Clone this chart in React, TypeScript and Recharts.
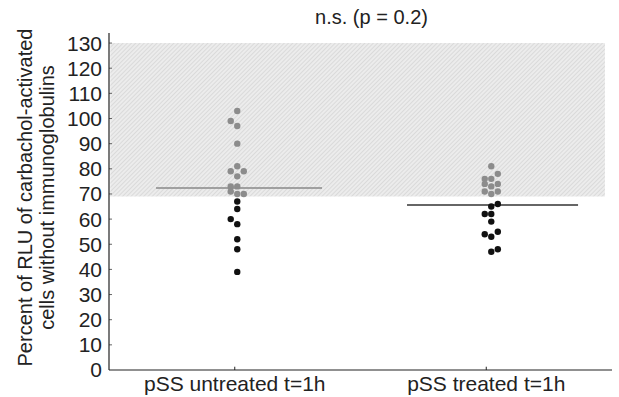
import { ScatterChart, Scatter, XAxis, YAxis, ReferenceArea, ReferenceLine } from 'recharts';

const CATEGORIES = ['pSS untreated t=1h', 'pSS treated t=1h'];
const Y_TICKS = [0, 10, 20, 30, 40, 50, 60, 70, 80, 90, 100, 110, 120, 130];

// measured values per group, with the jitter column (-1 left, 0 centre, 1 right)
const UNTREATED = [103, 99, 97, 90, 81, 79, 79, 77, 73, 73, 71, 70, 70, 67, 64, 60, 58, 52, 48, 39];
const UNTREATED_COL = [0, -1, 0, 0, 0, -1, 1, 0, -1, 0, -1, 0, 1, 0, 0, -1, 0, 0, 0, 0];
const TREATED = [81, 78, 76, 76, 74, 74, 73, 71, 71, 70, 66, 65, 62, 62, 59, 55, 54, 53, 48, 47];
const TREATED_COL = [0, 1, -1, 0, -1, 1, 0, -1, 1, 0, 1, 0, -1, 0, 0, 1, -1, 0, 1, 0];
const MEDIANS = [72.4, 65.6];
const NORMAL_RANGE = [69, 130];

const CENTERS = [0.51, 1.52];
const JITTER = 0.026;

const FONT = '"Liberation Sans", Arial, Helvetica, sans-serif';

const points = [
  ...UNTREATED.map((v, i) => ({ x: CENTERS[0] + UNTREATED_COL[i] * JITTER, y: v })),
  ...TREATED.map((v, i) => ({ x: CENTERS[1] + TREATED_COL[i] * JITTER, y: v })),
];
const grayPoints = points.filter((p) => p.y >= NORMAL_RANGE[0]);
const blackPoints = points.filter((p) => p.y < NORMAL_RANGE[0]);

const YLabel = (props: any) => {
  const { viewBox } = props;
  const cy = viewBox.y + viewBox.height / 2 - 4;
  return (
    <g fontFamily={FONT} fontSize={20} fill="#222" textAnchor="middle">
      <text x={25} y={cy} transform={`rotate(-90 25 ${cy})`} dominantBaseline="central">
        Percent of RLU of carbachol-activated
      </text>
      <text x={47} y={cy} transform={`rotate(-90 47 ${cy})`} dominantBaseline="central">
        cells without immunoglobulins
      </text>
    </g>
  );
};

export default function App() {
  return (
    <div style={{ position: 'relative', width: 619, height: 397, background: '#fff' }}>
      <style>{`body{margin:0}`}</style>
      <div
        style={{
          position: 'absolute',
          left: 120,
          width: 503,
          top: 6,
          textAlign: 'center',
          fontFamily: FONT,
          fontSize: 20,
          color: '#222',
        }}
      >
        n.s. (p = 0.2)
      </div>
      <ScatterChart width={619} height={397} margin={{ top: 33, right: 7, bottom: 0, left: 0 }}>
        <defs>
          <pattern id="hatch" width="3" height="3" patternUnits="userSpaceOnUse" patternTransform="rotate(45)">
            <rect width="3" height="3" fill="#ececec" />
            <line x1="0" y1="0" x2="0" y2="3" stroke="#cfcfcf" strokeWidth="1.2" />
          </pattern>
        </defs>
        <XAxis
          type="number"
          dataKey="x"
          domain={[0, 2]}
          ticks={CENTERS.map((c, i) => i + 0.5)}
          tickFormatter={(v: number) => CATEGORIES[Math.floor(v)]}
          axisLine={{ stroke: '#222', strokeWidth: 1.2 }}
          tickLine={false}
          tickMargin={0}
          height={27}
          tick={{ fontFamily: FONT, fontSize: 21, fill: '#222' }}
        />
        <YAxis
          type="number"
          dataKey="y"
          domain={[0, 134]}
          ticks={Y_TICKS}
          interval={0}
          width={109}
          axisLine={{ stroke: '#222', strokeWidth: 1.2 }}
          tickLine={false}
          tickMargin={1}
          tick={{ fontFamily: FONT, fontSize: 21, fill: '#222' }}
          label={<YLabel />}
        />
        <ReferenceArea
          x1={0.005}
          x2={1.972}
          y1={NORMAL_RANGE[0]}
          y2={NORMAL_RANGE[1]}
          fill="url(#hatch)"
          fillOpacity={1}
          stroke="none"
        />
        {CATEGORIES.map((c, i) => (
          <ReferenceLine
            key={c}
            segment={[{ x: i + 0.5, y: 0 }, { x: i + 0.5, y: 1.3 }]}
            stroke="#222"
            strokeWidth={1}
          />
        ))}
        {Y_TICKS.slice(1).map((t) => (
          <ReferenceLine
            key={t}
            segment={[{ x: 0, y: t }, { x: 0.012, y: t }]}
            stroke="#666"
            strokeWidth={1}
          />
        ))}
        <ReferenceLine
          segment={[{ x: 0.187, y: MEDIANS[0] }, { x: 0.847, y: MEDIANS[0] }]}
          stroke="#888"
          strokeWidth={1.5}
        />
        <ReferenceLine
          segment={[{ x: 1.185, y: MEDIANS[1] }, { x: 1.865, y: MEDIANS[1] }]}
          stroke="#333"
          strokeWidth={1.5}
        />
        <Scatter data={grayPoints} fill="#8c8c8c" isAnimationActive={false} shape={(p: any) => <circle cx={p.cx} cy={p.cy} r={3.2} fill="#8c8c8c" />} />
        <Scatter data={blackPoints} fill="#111" isAnimationActive={false} shape={(p: any) => <circle cx={p.cx} cy={p.cy} r={3.2} fill="#111" />} />
      </ScatterChart>
    </div>
  );
}
